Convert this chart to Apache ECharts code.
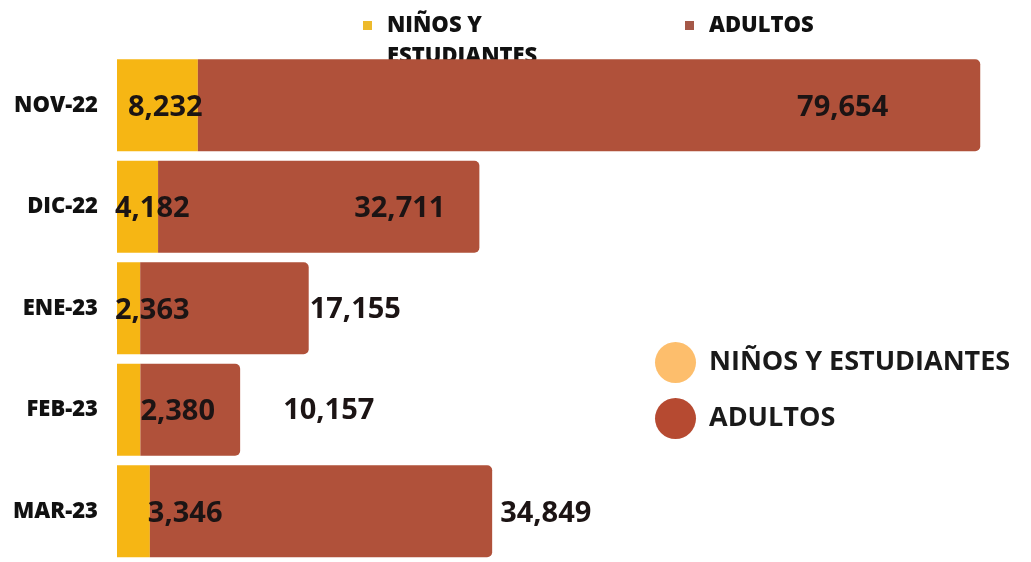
<!DOCTYPE html>
<html>
<head>
<meta charset="utf-8">
<script src="https://cdn.jsdelivr.net/npm/echarts@6/dist/echarts.min.js"></script>
<style>
  html, body { margin: 0; padding: 0; background: #ffffff; }
  #chart { width: 1031px; height: 562px; }
</style>
</head>
<body>
<div id="chart"></div>
<script>
// ---- data ----
const categories = ['NOV-22', 'DIC-22', 'ENE-23', 'FEB-23', 'MAR-23'];
const seriesNames = ['NIÑOS Y ESTUDIANTES', 'ADULTOS'];
const ninos = [8232, 4182, 2363, 2380, 3346];
const adultos = [79654, 32711, 17155, 10157, 34849];

// ---- label placement (style only) ----
const ninosLabelPlace = [
  { position: 'insideLeft', distance: 11, offset: [0, 2] },
  { position: 'insideLeft', distance: 5, offset: [-7, 2] },
  { position: 'insideLeft', distance: 5, offset: [-7, 2] },
  { position: 'right', distance: 0, offset: [0, 2] },
  { position: 'right', distance: 0, offset: [-2, 2] }
];
const adultosLabelPlace = [
  { position: 'insideRight', distance: 92, offset: [0, 2] },
  { position: 'insideRight', distance: 34, offset: [0, 2] },
  { position: 'right', distance: 1, offset: [0, 1] },
  { position: 'right', distance: 43, offset: [0, 1] },
  { position: 'right', distance: 8, offset: [0, 2] }
];

const YELLOW = '#F6B614';
const BROWN = '#B0513A';
const FONT = '"Open Sans", "Noto Sans", sans-serif';
const fmt = v => v.toLocaleString('en-US');

const labelBase = {
  show: true,
  fontFamily: FONT,
  fontSize: 29,
  fontWeight: 'bold',
  color: '#1c1414',
  formatter: p => fmt(p.value)
};

const chart = echarts.init(document.getElementById('chart'), null, { renderer: 'canvas' });

const topLegendText = {
  fontFamily: FONT, fontSize: 22, fontWeight: 800, color: '#111111',
  lineHeight: 31, padding: [0, 0, 0, 10]
};

chart.setOption({
  animation: false,
  backgroundColor: '#ffffff',
  grid: { left: 117, right: 30, top: 54.5, bottom: -7.5, containLabel: false },
  xAxis: {
    type: 'value', min: 0, max: 90000, show: false
  },
  yAxis: {
    type: 'category', data: categories, inverse: true,
    axisLine: { show: false }, axisTick: { show: false },
    axisLabel: {
      margin: 19, fontFamily: FONT, fontSize: 22, fontWeight: 800, color: '#111111'
    }
  },
  legend: [
    {
      z: 1, zlevel: 0,
      left: 358, top: -26,
      icon: 'rect', itemWidth: 9, itemHeight: 9,
      data: [{ name: seriesNames[0], itemStyle: { color: '#EDBA2C' } }],
      formatter: () => ' \nNIÑOS Y\nESTUDIANTES',
      textStyle: topLegendText,
      selectedMode: false
    },
    {
      z: 1,
      left: 680, top: 5,
      icon: 'rect', itemWidth: 9, itemHeight: 9,
      data: [{ name: seriesNames[1], itemStyle: { color: '#A55848' } }],
      textStyle: topLegendText,
      selectedMode: false
    },
    {
      orient: 'vertical',
      left: 650, top: 337,
      itemGap: 15,
      icon: 'circle', itemWidth: 41, itemHeight: 41,
      data: [
        { name: seriesNames[0], itemStyle: { color: '#FDBE6C' } },
        { name: seriesNames[1], itemStyle: { color: '#B64A31' } }
      ],
      textStyle: {
        fontFamily: FONT, fontSize: 27, fontWeight: 'bold', color: '#1a1a1a',
        padding: [0, 0, 0, 8]
      },
      selectedMode: false
    }
  ],
  series: [
    {
      name: seriesNames[0], type: 'bar', stack: 'total', z: 3,
      barWidth: 92,
      itemStyle: { color: YELLOW },
      label: labelBase,
      data: ninos.map((v, i) => ({ value: v, label: ninosLabelPlace[i] }))
    },
    {
      name: seriesNames[1], type: 'bar', stack: 'total', z: 3,
      barWidth: 92,
      itemStyle: { color: BROWN, borderRadius: [0, 5, 5, 0] },
      label: labelBase,
      data: adultos.map((v, i) => ({ value: v, label: adultosLabelPlace[i] }))
    }
  ]
});
</script>
</body>
</html>
